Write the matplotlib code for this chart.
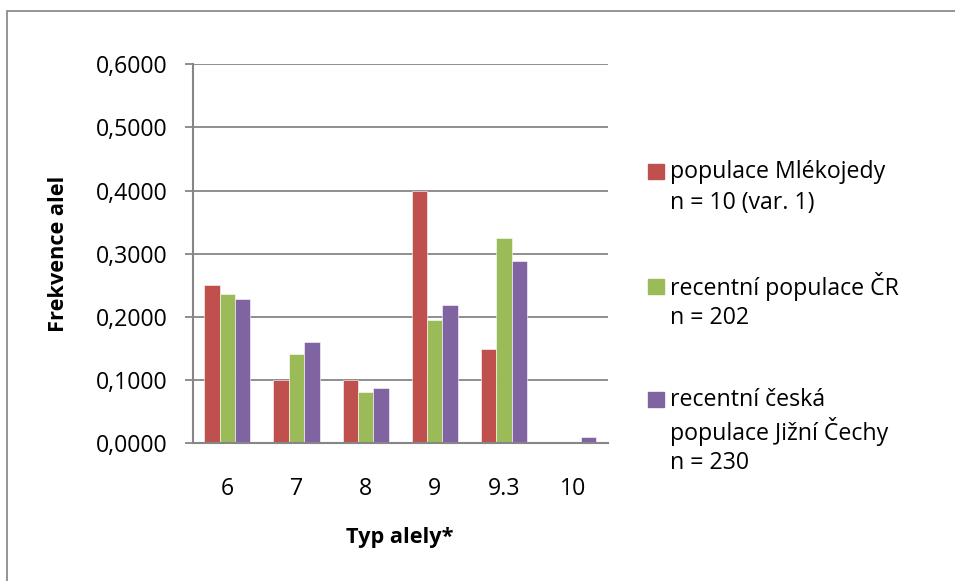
import matplotlib
matplotlib.use("Agg")
import matplotlib.pyplot as plt
import numpy as np
from matplotlib.patches import Rectangle

categories = ["6", "7", "8", "9", "9.3", "10"]
mlekojedy = [0.2500, 0.1000, 0.1000, 0.4000, 0.1500, 0.0000]
cr = [0.2360, 0.1410, 0.0817, 0.1955, 0.3250, 0.0000]
jizni_cechy = [0.2280, 0.1600, 0.0880, 0.2196, 0.2880, 0.0100]
series_labels = [
    "populace Mlékojedy\nn = 10 (var. 1)",
    "recentní populace ČR\nn = 202",
    "recentní česká\npopulace Jižní Čechy\nn = 230",
]
yticks = [0.0, 0.1, 0.2, 0.3, 0.4, 0.5, 0.6]

colors = ["#C0504D", "#9BBB59", "#8064A2"]
FONT = ["Open Sans", "DejaVu Sans"]
plt.rcParams["font.family"] = FONT

W, H = 955, 581
fig = plt.figure(figsize=(W / 100, H / 100), dpi=100)

def fx(px):
    return px / W

def fy(py):
    return 1 - py / H

# outer chart border
fig.patches.append(Rectangle((fx(7), fy(600)), fx(1000), fy(11) - fy(600),
                             transform=fig.transFigure, fill=False,
                             edgecolor="#8C8C8C", linewidth=1.3))

ax = fig.add_axes([fx(192.7), fy(443.3), fx(607.7) - fx(192.7), fy(64.3) - fy(443.3)])

x = np.arange(len(categories))
bw = 1 / 4.5
for i, (vals, c) in enumerate(zip([mlekojedy, cr, jizni_cechy], colors)):
    ax.bar(x + (i - 1) * bw, vals, width=bw, color=c, edgecolor="white",
           linewidth=0.4, zorder=3)

ax.set_xlim(-0.5, len(categories) - 0.5)
ax.set_ylim(0, 0.6)
ax.set_yticks(yticks)
ax.set_yticklabels([f"{v:.4f}".replace(".", ",") for v in yticks], fontsize=16.7)
ax.set_xticks(x)
ax.set_xticklabels(categories, fontsize=16.7)
ax.tick_params(axis="x", length=0, pad=24)
ax.tick_params(axis="y", length=6, width=1.3, color="#868686", pad=12)

ax.grid(axis="y", color="#868686", linewidth=1.3, zorder=0)
for s in ["top", "right"]:
    ax.spines[s].set_visible(False)
for s in ["left", "bottom"]:
    ax.spines[s].set_color("#868686")
    ax.spines[s].set_linewidth(1.5)
    ax.spines[s].set_zorder(4)

fig.text(fx(59), fy(253.8), "Frekvence alel", rotation=90, ha="center",
         va="center", fontsize=15.7, fontweight="bold")
fig.text(fx(400.2), fy(538), "Typ alely*", ha="center", va="center",
         fontsize=15.7, fontweight="bold")

# legend (manual, to match multi-line layout)
entry_tops = [171.7, 286.7, 400.0]
line_h = 31.7
for lab, c, ytop in zip(series_labels, colors, entry_tops):
    fig.patches.append(Rectangle((fx(648), fy(ytop + 7)), fx(15.5), fy(163) - fy(178),
                                 transform=fig.transFigure, color=c))
    for k, line in enumerate(lab.split("\n")):
        fig.text(fx(670), fy(ytop + k * line_h), line, ha="left", va="center",
                 fontsize=16.7)

fig.savefig("out.png", dpi=100)
